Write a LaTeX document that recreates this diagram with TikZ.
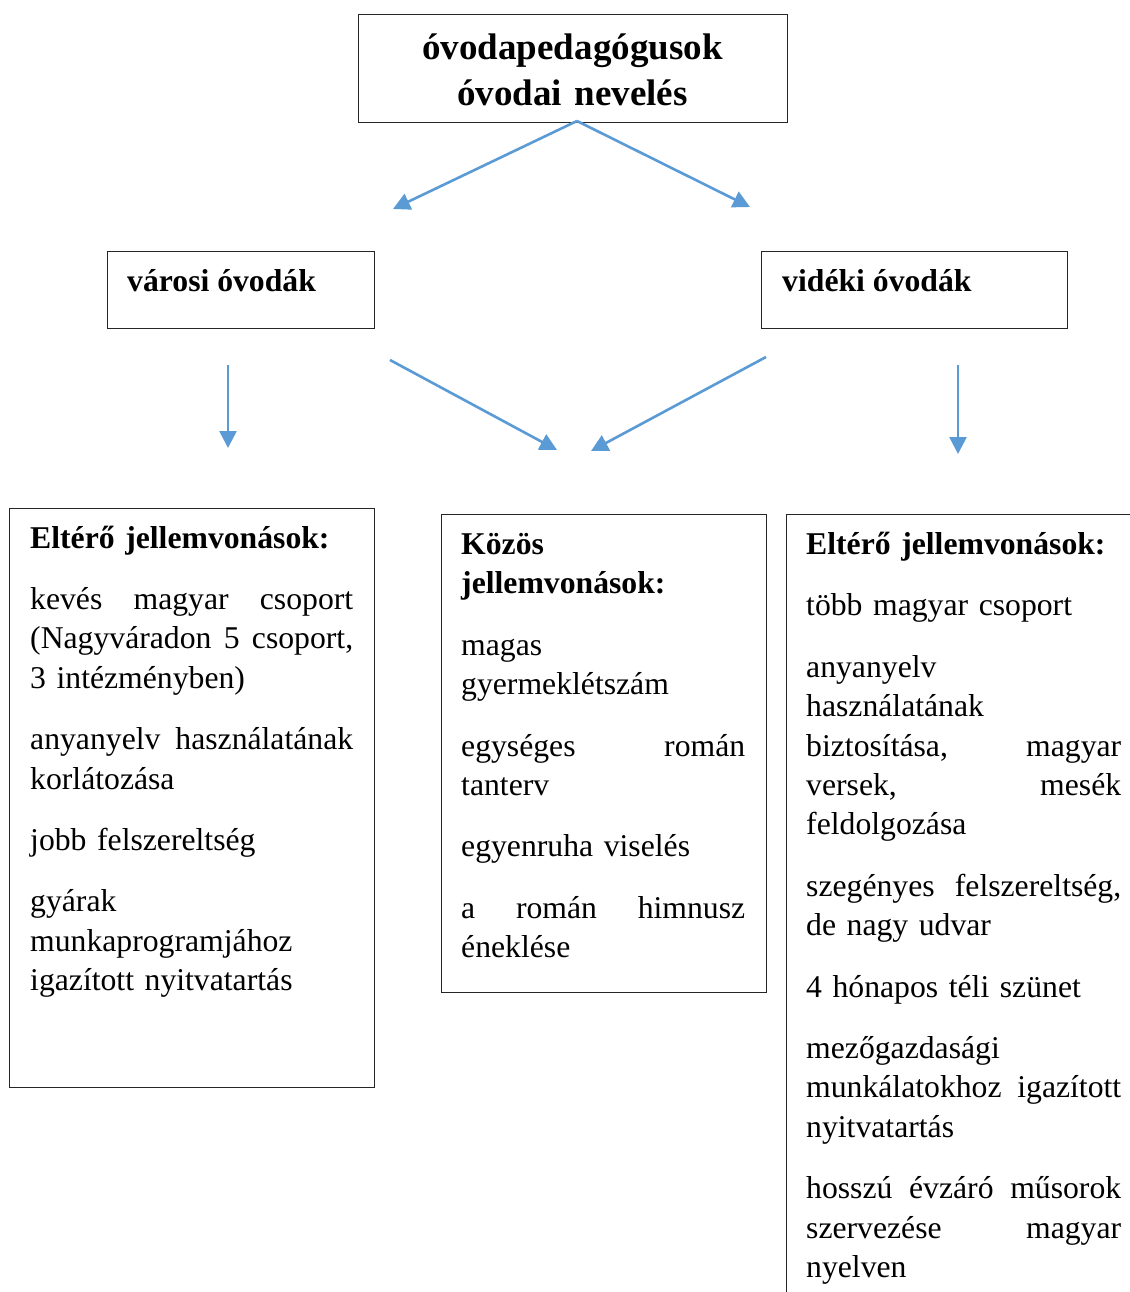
\documentclass[tikz,border=0pt]{standalone}
\usepackage{fontspec}
\setmainfont{Liberation Serif}
\usetikzlibrary{arrows.meta}
\definecolor{arrowblue}{HTML}{5B9BD5}
\newcommand{\jl}[1]{\leavevmode\hbox to \jw{#1}}
\begin{document}
\begin{tikzpicture}[x=1pt,y=-1pt,
  box/.style={draw=black!85, line width=1.2pt, anchor=north west, inner sep=0pt},
  body/.style={anchor=base west, inner sep=0pt, text width=#1, align=left, font=\fontsize{31.7}{39.4}\selectfont\def\jw{#1}},
  head/.style={anchor=base west, inner sep=0pt, font=\bfseries\fontsize{31.7}{39.4}\selectfont},
  conn/.style={draw=arrowblue, line width=2.6pt, -{Triangle[length=17pt,width=17pt]}}]
\useasboundingbox (0,0) rectangle (1129,1292);
\fill[white] (0,0) rectangle (1129,1292);

% boxes
\node[box, minimum width=429pt, minimum height=108pt] (top) at (358,14) {};
\node[box, minimum width=267pt, minimum height=77pt] (varosi) at (107,251) {};
\node[box, minimum width=306pt, minimum height=77pt] (videki) at (761,251) {};
\node[box, minimum width=365pt, minimum height=579pt] (leftbox) at (9,508) {};
\node[box, minimum width=325pt, minimum height=478pt] (midbox) at (441,514) {};
\node[box, minimum width=400pt, minimum height=820pt] (rightbox) at (786,514) {};

% texts
\node[font=\bfseries\fontsize{37}{46}\selectfont, text width=429pt, align=center, anchor=base, inner sep=0pt] (title) at (572.5,60) {óvodapedagógusok\\óvodai nevelés};
\node[head] (vtext) at (127,291) {városi óvodák};
\node[head] (vdtext) at (782,291) {vidéki óvodák};

\node[body=323pt] (lefttext) at (30,548) {\textbf{Eltérő jellemvonások:}\\[22pt]
\jl{kevés\hfill magyar\hfill csoport}\\
\jl{(Nagyváradon\hfill 5\hfill csoport,}\\
3 intézményben)\\[22pt]
\jl{anyanyelv\hfill használatának}\\
korlátozása\\[22pt]
jobb felszereltség\\[22pt]
gyárak\\
munkaprogramjához\\
igazított nyitvatartás};

\node[body=284pt] (midtext) at (461,554.5) {\textbf{Közös}\\
\textbf{jellemvonások:}\\[22pt]
magas\\
gyermeklétszám\\[22pt]
\jl{egységes\hfill román}\\
tanterv\\[22pt]
egyenruha viselés\\[22pt]
\jl{a\hfill román\hfill himnusz}\\
éneklése};

\node[body=315pt] (righttext) at (806,554.5) {\textbf{Eltérő jellemvonások:}\\[22pt]
több magyar csoport\\[22pt]
anyanyelv\\
használatának\\
\jl{biztosítása,\hfill magyar}\\
\jl{versek,\hfill mesék}\\
feldolgozása\\[22pt]
\jl{szegényes\hfill felszereltség,}\\
de nagy udvar\\[22pt]
4 hónapos téli szünet\\[22pt]
mezőgazdasági\\
\jl{munkálatokhoz\hfill igazított}\\
nyitvatartás\\[22pt]
\jl{hosszú\hfill évzáró\hfill műsorok}\\
\jl{szervezése\hfill magyar}\\
nyelven};

% connectors
\coordinate (a1s) at (577,121);
\coordinate (a1e) at (393,209);
\coordinate (a2e) at (750,207);
\coordinate (b1s) at (228,365);
\coordinate (b1e) at (228,448);
\coordinate (b2s) at (390,360);
\coordinate (b2e) at (557,450);
\coordinate (b3s) at (766,357);
\coordinate (b3e) at (591,451);
\coordinate (b4s) at (958,365);
\coordinate (b4e) at (958,454);
\draw[conn] (a1s) -- (a1e);
\draw[conn] (a1s) -- (a2e);
\draw[conn] (b1s) -- (b1e);
\draw[conn] (b2s) -- (b2e);
\draw[conn] (b3s) -- (b3e);
\draw[conn] (b4s) -- (b4e);
\end{tikzpicture}
\end{document}
